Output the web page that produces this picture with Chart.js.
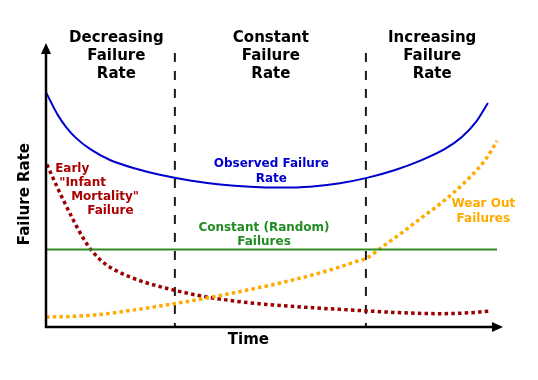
<!DOCTYPE html>
<html>
<head>
<meta charset="utf-8">
<script src="https://cdn.jsdelivr.net/npm/chart.js@4/dist/chart.umd.min.js"></script>
<style>
html,body{margin:0;padding:0;background:#fff;}
#wrap{width:538px;height:380px;position:relative;}
</style>
</head>
<body>
<div id="wrap"><canvas id="c"></canvas></div>
<script>
// ---- data (time on 0..100, failure rate on 0..100) ----
const observedX = [0, 1.3, 2.6, 4.4, 6.6, 9.6, 14.0, 19.5, 24.9, 31.5, 38.1, 44.6, 51.2, 57.8, 64.3, 70.2, 76.4, 81.8, 87.3, 91.0, 94.1, 96.7];
const observedY = [82.7, 78.5, 74.6, 70.4, 66.5, 62.7, 58.8, 55.8, 53.6, 51.6, 50.2, 49.4, 49.1, 49.4, 50.6, 52.5, 55.3, 58.5, 62.7, 66.9, 72.2, 78.9];

const earlyX = [0.2, 1.5, 3.7, 5.9, 8.1, 10.3, 12.5, 14.7, 18.4, 22.1, 28.2, 33.7, 37.4, 44.6, 51.9, 59.3, 66.5, 73.1, 80.0, 86.0, 91.5, 97.4];
const earlyY = [57.2, 52.6, 45.0, 37.9, 31.4, 26.3, 22.8, 20.4, 17.6, 15.5, 12.9, 11.0, 10.0, 8.5, 7.5, 6.7, 6.0, 5.4, 4.9, 4.7, 4.9, 5.6];

const wearX = [0, 5.25, 11.8, 18.4, 24.9, 31.5, 38.1, 44.6, 51.2, 57.8, 64.3, 67.6, 70.0, 73.7, 77.5, 81.8, 86.2, 89.5, 92.8, 96.1, 98.7];
const wearY = [3.52, 3.70, 4.40, 5.81, 7.39, 9.15, 11.09, 13.20, 15.49, 18.13, 21.13, 22.89, 24.12, 28.35, 32.75, 38.03, 43.31, 47.71, 52.82, 58.80, 65.49];

const randomX = [0, 98.7];
const randomY = [27.3, 27.3];

const phaseBoundaries = [28.2, 70.0];
const boundaryTop = 96.5;

const phaseTitles = [
  ["Decreasing", "Failure", "Rate"],
  ["Constant", "Failure", "Rate"],
  ["Increasing", "Failure", "Rate"]
];
const observedLabel = ["Observed Failure", "Rate"];
const earlyLabel = ["Early", "\"Infant", "Mortality\"", "Failure"];
const randomLabel = ["Constant (Random)", "Failures"];
const wearLabel = ["Wear Out", "Failures"];
const xTitle = "Time";
const yTitle = "Failure Rate";

// ---- build datasets ----
const pts = (xs, ys) => xs.map((x, i) => ({x: x, y: ys[i]}));
const FONT = "'DejaVu Sans', sans-serif";

const datasets = [
  {data: pts(randomX, randomY), borderColor: '#2e8b22', borderWidth: 2, tension: 0},
  {data: pts(wearX, wearY), borderColor: '#ffaa00', borderWidth: 3.5, borderDash: [3.5, 3.2], borderCapStyle: 'butt', cubicInterpolationMode: 'monotone'},
  {data: pts(earlyX, earlyY), borderColor: '#9a0000', borderWidth: 3.5, borderDash: [3.5, 3.2], borderCapStyle: 'butt', cubicInterpolationMode: 'monotone'},
  {data: pts(observedX, observedY), borderColor: '#0000cc', borderWidth: 2, cubicInterpolationMode: 'monotone'}
];
phaseBoundaries.forEach(b => {
  datasets.push({data: [{x: b, y: boundaryTop}, {x: b, y: 0}], borderColor: '#1a1a1a', borderWidth: 2, borderDash: [9, 9], borderCapStyle: 'butt', tension: 0});
});
datasets.forEach(d => { d.pointRadius = 0; d.fill = false; d.clip = false; });

// ---- annotation placement (data coords) ----
const annot = {
  titles: {xs: [15.4, 49.2, 84.5], y: 100.3, lh: 17.8, size: 15},
  observed: {x: 49.3, y: 56.2, lh: 14.3, size: 12, color: '#0000cc'},
  early: {x: 2.0, y: 54.75, lh: 14.3, size: 12, color: '#aa0000', dx: [0, 4, 16, 32]},
  random: {x: 47.7, y: 33.8, lh: 14.3, size: 12, color: '#228b22'},
  wear: {x: 95.7, y: 42.1, lh: 14.3, size: 12, color: '#ffaa00'},
  time: {x: 44.3, y: -6.0, size: 15},
  yt: {x: -4.6, y: 46.8, size: 15}
};

const deco = {
  id: 'deco',
  afterDatasetsDraw(chart) {
    const ctx = chart.ctx, xs = chart.scales.x, ys = chart.scales.y, a = chart.chartArea;
    const X = v => xs.getPixelForValue(v), Y = v => ys.getPixelForValue(v);
    ctx.save();
    // axes with arrows
    ctx.strokeStyle = '#000'; ctx.fillStyle = '#000'; ctx.lineWidth = 2.5;
    ctx.beginPath();
    ctx.moveTo(a.left, a.top + 8); ctx.lineTo(a.left, a.bottom); ctx.lineTo(a.right - 8, a.bottom);
    ctx.stroke();
    ctx.beginPath();
    ctx.moveTo(a.left, a.top); ctx.lineTo(a.left - 5, a.top + 11); ctx.lineTo(a.left + 5, a.top + 11); ctx.closePath(); ctx.fill();
    ctx.beginPath();
    ctx.moveTo(a.right, a.bottom); ctx.lineTo(a.right - 11, a.bottom - 5); ctx.lineTo(a.right - 11, a.bottom + 5); ctx.closePath(); ctx.fill();

    const lines = (arr, x, y, lh, size, color, align, dx) => {
      ctx.font = 'bold ' + size + 'px ' + FONT;
      ctx.fillStyle = color; ctx.textAlign = align; ctx.textBaseline = 'alphabetic';
      arr.forEach((t, i) => ctx.fillText(t, X(x) + (dx ? dx[i] : 0), Y(y) + i * lh));
    };
    phaseTitles.forEach((t, i) => lines(t, annot.titles.xs[i], annot.titles.y, annot.titles.lh, annot.titles.size, '#000', 'center'));
    lines(observedLabel, annot.observed.x, annot.observed.y, annot.observed.lh, annot.observed.size, annot.observed.color, 'center');
    lines(earlyLabel, annot.early.x, annot.early.y, annot.early.lh, annot.early.size, annot.early.color, 'left', annot.early.dx);
    lines(randomLabel, annot.random.x, annot.random.y, annot.random.lh, annot.random.size, annot.random.color, 'center');
    lines(wearLabel, annot.wear.x, annot.wear.y, annot.wear.lh, annot.wear.size, annot.wear.color, 'center');
    lines([xTitle], annot.time.x, annot.time.y, 0, annot.time.size, '#000', 'center');
    ctx.translate(X(annot.yt.x), Y(annot.yt.y));
    ctx.rotate(-Math.PI / 2);
    ctx.font = 'bold ' + annot.yt.size + 'px ' + FONT;
    ctx.fillStyle = '#000'; ctx.textAlign = 'center'; ctx.textBaseline = 'middle';
    ctx.fillText(yTitle, 0, 0);
    ctx.restore();
  }
};

new Chart(document.getElementById('c'), {
  type: 'line',
  data: {datasets: datasets},
  options: {
    responsive: true,
    maintainAspectRatio: false,
    animation: false,
    layout: {padding: {left: 46, right: 35, top: 43, bottom: 53}},
    plugins: {legend: {display: false}, tooltip: {enabled: false}},
    scales: {
      x: {type: 'linear', min: 0, max: 100, display: false},
      y: {type: 'linear', min: 0, max: 100, display: false}
    }
  },
  plugins: [deco]
});
</script>
</body>
</html>
